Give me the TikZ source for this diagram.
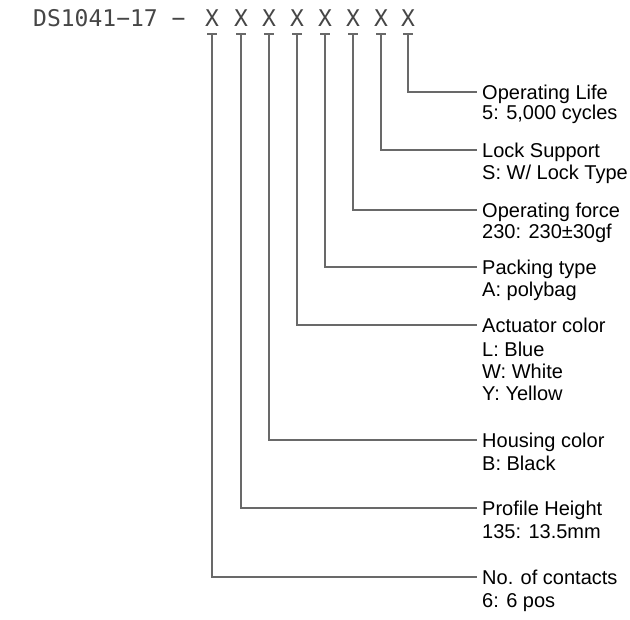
\documentclass[tikz,border=0pt]{standalone}
\usepackage{fontspec}
\setmainfont{Liberation Sans}
\newfontfamily\partfont{DejaVu Sans Mono}
\usetikzlibrary{positioning}
\definecolor{leadgray}{RGB}{105,105,105}
\definecolor{codeink}{RGB}{70,70,70}

\tikzset{
  lead/.style={draw=leadgray, line width=1.1pt},
  codechar/.style={font=\partfont\fontsize{23}{23}\selectfont, inner sep=0pt, text=codeink},
  optlabel/.style={anchor=north west, inner sep=0pt, align=left, font=\fontsize{20}{22}\selectfont}
}

\begin{document}
\begin{tikzpicture}[x=1pt,y=-1pt]
  \useasboundingbox (0,0) rectangle (630,620);

  % part number and the eight option places
  \node[codechar, anchor=base west] (code) at (33,27) {DS1041−17 −};
  \foreach \i/\px in {1/212,2/241,3/269,4/297,5/325,6/353,7/381,8/408} {
    \node[codechar, anchor=base] (x\i) at (\px,27) {X};
    \coordinate (t\i) at (\px,34);
    \draw[lead] ([xshift=-5pt]t\i) -- ([xshift=5pt]t\i);
  }

  % ends of the leaders
  \coordinate (e8) at (477,92);  \coordinate (e7) at (477,150);
  \coordinate (e6) at (477,210); \coordinate (e5) at (477,267);
  \coordinate (e4) at (477,325); \coordinate (e3) at (477,440);
  \coordinate (e2) at (477,508); \coordinate (e1) at (477,577);

  \foreach \i in {1,...,8} \draw[lead] (t\i) |- (e\i);

  \node[optlabel] (life) at ([xshift=5pt,yshift=7.5pt]e8) {Operating Life\\[-2pt]5: 5,000 cycles};
  \node[optlabel] (lock) at ([xshift=5pt,yshift=7.5pt]e7) {Lock Support\\S: W/ Lock Type};
  \node[optlabel] (force) at ([xshift=5pt,yshift=7.5pt]e6) {Operating force\\[-1pt]230: 230±30gf};
  \node[optlabel] (pack) at ([xshift=5pt,yshift=7.5pt]e5) {Packing type\\A: polybag};
  \node[optlabel] (actuator) at ([xshift=5pt,yshift=7.5pt]e4) {Actuator color\\[2pt]L: Blue\\W: White\\Y: Yellow};
  \node[optlabel] (housing) at ([xshift=5pt,yshift=7.5pt]e3) {Housing color\\[1pt]B: Black};
  \node[optlabel] (height) at ([xshift=5pt,yshift=7.5pt]e2) {Profile Height\\[1pt]135: 13.5mm};
  \node[optlabel] (contacts) at ([xshift=5pt,yshift=7.5pt]e1) {No. of contacts\\[1pt]6: 6 pos};
\end{tikzpicture}
\end{document}
